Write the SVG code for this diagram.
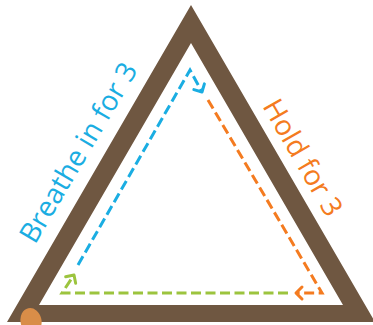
<svg xmlns="http://www.w3.org/2000/svg" width="373" height="325" viewBox="0 0 373 325">
  <style>
    .lbl { font-family: "Open Sans", "Liberation Sans", sans-serif; font-size: 28px; font-weight: 400; }
    .dash { fill: none; stroke-width: 3; stroke-dasharray: 10 4.5; }
    .head { fill: none; stroke-width: 3; stroke-linecap: round; stroke-linejoin: round; }
  </style>
  <defs>
    <marker id="mBlue" markerUnits="userSpaceOnUse" markerWidth="20" markerHeight="20" refX="0" refY="0" viewBox="-10 -10 20 20" orient="auto" overflow="visible">
      <path class="head" d="M-6,-6 L0,0 L-6,6" stroke="#1aade2"/>
    </marker>
    <marker id="mOrange" markerUnits="userSpaceOnUse" markerWidth="20" markerHeight="20" refX="0" refY="0" viewBox="-10 -10 20 20" orient="auto" overflow="visible">
      <path class="head" d="M-6,-6 L0,0 L-6,6" stroke="#f47b20"/>
    </marker>
    <marker id="mGreen" markerUnits="userSpaceOnUse" markerWidth="20" markerHeight="20" refX="0" refY="0" viewBox="-10 -10 20 20" orient="auto" overflow="visible">
      <path class="head" d="M-6,-6 L0,0 L-6,6" stroke="#9cc43e"/>
    </marker>
  </defs>
  <rect width="373" height="325" fill="#ffffff"/>
  <g id="triangle">
    <path d="M191,5 L375,322 L7,322 Z M191,43 L39,305 L343,305 Z" fill="#6f5741" fill-rule="evenodd"/>
    <ellipse cx="31" cy="321" rx="10.5" ry="13" transform="rotate(-12 31 321)" fill="#d98d48"/>
  </g>
  <g id="connectors">
    <path class="dash" d="M288,293 L62,293 L74,275" stroke="#9cc43e" marker-end="url(#mGreen)"/>
    <path class="dash" d="M78,265 L190,70 L202,92" stroke="#1aade2" marker-end="url(#mBlue)"/>
    <path class="dash" d="M208,100 L322,293 L296,293" stroke="#f47b20" marker-end="url(#mOrange)"/>
  </g>
  <g id="label-breathe">
    <text class="lbl" fill="#1aade2" transform="translate(35,245) rotate(-59.5)">Breathe in for 3</text>
  </g>
  <g id="label-hold">
    <text class="lbl" fill="#f47b20" transform="translate(262,106) rotate(60)">Hold for 3</text>
  </g>
</svg>
